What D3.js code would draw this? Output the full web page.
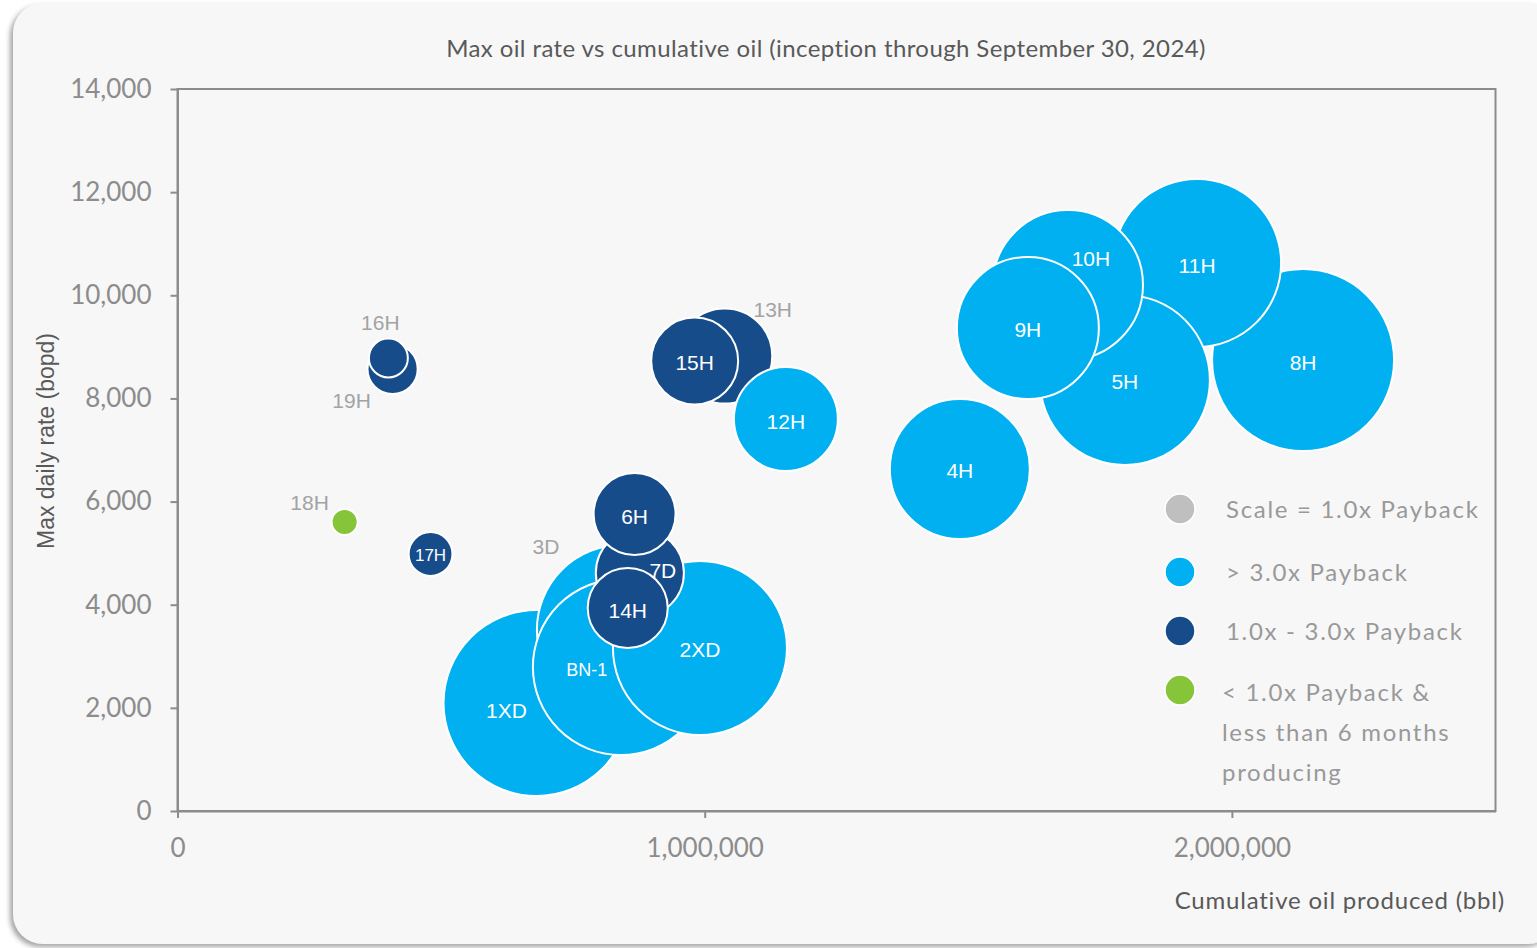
<!DOCTYPE html>
<html>
<head>
  <meta charset="utf-8">
  <style type="text/css">
    body { margin: 0; background: #ffffff; }
    svg { display: block; }
    .tick text { fill: #8c8c8c; font-family: Lato, sans-serif; font-size: 26px; }
    .well-label { font-family: "Liberation Sans", Arial, sans-serif; }
  </style>
  <script src="https://d3js.org/d3.v7.min.js"></script>
</head>
<body>
  <div id="chart"></div>
  <script type="text/javascript">
    // data, in drawing order (later wells sit on top)
    var wells    = ["8H", "11H", "5H", "10H", "9H", "4H", "1XD", "3D", "BN-1", "2XD",
                    "7D", "6H", "14H", "13H", "15H", "12H", "19H", "16H", "17H", "18H"];
    var cumOil   = [2135000, 1934000, 1797000, 1689000, 1613000, 1484000, 681000, 843000, 841000, 991000,
                    877000, 867000, 854000, 1038000, 981000, 1154000, 408000, 400000, 480000, 317000];
    var maxRate  = [8745, 10626, 8358, 10200, 9366, 6632, 2094, 3510, 2792, 3161,
                    4615, 5759, 3936, 8823, 8726, 7601, 8571, 8784, 4984, 5604];
    var bubbleSize = [82.8, 70.6, 72.3, 56.3, 50.4, 49.0, 86.5, 72.3, 77.4, 75.7,
                      19.4, 16.8, 16.0, 22.6, 18.9, 27.0, 6.3, 3.8, 4.8, 1.7];
    var payback  = ["high", "high", "high", "high", "high", "high", "high", "high", "high", "high",
                    "mid", "mid", "mid", "mid", "mid", "high", "mid", "mid", "mid", "low"];

    var xTicks = [0, 1000000, 2000000];
    var yTicks = [0, 2000, 4000, 6000, 8000, 10000, 12000, 14000];

    var legendKeys   = ["scale", "high", "mid", "low"];
    var legendLabels = [["Scale = 1.0x Payback"], ["> 3.0x Payback"], ["1.0x - 3.0x Payback"],
                        ["< 1.0x Payback &", "less than 6 months", "producing"]];

    var colors = { scale: "#bfbfbf", high: "#00b0f0", mid: "#164c8a", low: "#86c43a" };

    // labels that were nudged by hand in the original, and the ones set outside in grey
    var labelNudge = { "10H": [23, -28], "7D": [23, -4], "BN-1": [-34, 1], "1XD": [-30, 5],
                       "13H": [48, -48], "16H": [-8, -37], "19H": [-41, 30], "18H": [-35, -21],
                       "3D": [-76, -85] };
    var outsideLabels = ["13H", "16H", "19H", "18H", "3D"];
    var labelSize = { "BN-1": 18, "17H": 17 };

    var W = 1537, H = 948;
    var svg = d3.select("#chart").append("svg")
      .attr("width", W).attr("height", H);

    var defs = svg.append("defs");
    var f = defs.append("filter").attr("id", "shadow")
      .attr("x", "-5%").attr("y", "-5%").attr("width", "110%").attr("height", "110%");
    f.append("feDropShadow").attr("dx", -3).attr("dy", 3).attr("stdDeviation", 2.5)
      .attr("flood-color", "#7f7f7f").attr("flood-opacity", 0.7);

    // card
    svg.append("rect")
      .attr("x", 13).attr("y", 3).attr("width", 1545).attr("height", 941)
      .attr("rx", 30).attr("ry", 30)
      .attr("fill", "#f7f7f7")
      .attr("filter", "url(#shadow)");

    var x = d3.scaleLinear().domain([0, 2500000]).range([177.5, 1495.5]);
    var y = d3.scaleLinear().domain([0, 14000]).range([811, 89]);
    var r = d3.scaleSqrt().domain([0, d3.max(bubbleSize)]).range([0, 93]);

    // title
    svg.append("text")
      .attr("x", 826).attr("y", 57)
      .attr("text-anchor", "middle")
      .style("font-family", "Lato, sans-serif")
      .style("font-size", "24px")
      .style("letter-spacing", "0.4px")
      .style("fill", "#595959")
      .text("Max oil rate vs cumulative oil (inception through September 30, 2024)");

    // plot frame
    var axisColor = "#8c8c8c";
    svg.append("rect")
      .attr("x", x(0)).attr("y", y(14000))
      .attr("width", x(2500000) - x(0)).attr("height", y(0) - y(14000))
      .attr("fill", "none").attr("stroke", axisColor).attr("stroke-width", 2);

    var yAxis = svg.append("g")
      .attr("transform", "translate(" + x(0) + ",0)")
      .call(d3.axisLeft(y).tickValues(yTicks).tickFormat(d3.format(","))
        .tickSize(7).tickSizeOuter(0).tickPadding(19));
    var xAxis = svg.append("g")
      .attr("transform", "translate(0," + y(0) + ")")
      .call(d3.axisBottom(x).tickValues(xTicks).tickFormat(d3.format(","))
        .tickSize(7).tickSizeOuter(0).tickPadding(21));
    [xAxis, yAxis].forEach(function(a) {
      a.select(".domain").attr("stroke", axisColor).attr("stroke-width", 2);
      a.selectAll(".tick line").attr("stroke", axisColor).attr("stroke-width", 2);
    });

    // axis titles
    svg.append("text")
      .attr("transform", "translate(54,441) rotate(-90)")
      .attr("text-anchor", "middle")
      .style("font-family", "'Liberation Sans', Arial, sans-serif")
      .style("font-size", "23px")
      .style("fill", "#595959")
      .text("Max daily rate (bopd)");

    svg.append("text")
      .attr("x", 1505).attr("y", 909)
      .attr("text-anchor", "end")
      .style("font-family", "Lato, sans-serif")
      .style("font-size", "24px")
      .style("letter-spacing", "0.8px")
      .style("fill", "#595959")
      .text("Cumulative oil produced (bbl)");

    // bubbles
    var pts = wells.map(function(w, i) {
      return { name: w, cx: x(cumOil[i]), cy: y(maxRate[i]), rr: r(bubbleSize[i]), cat: payback[i] };
    });

    svg.append("g").selectAll("circle")
      .data(pts).enter().append("circle")
        .attr("cx", function(d) { return d.cx; })
        .attr("cy", function(d) { return d.cy; })
        .attr("r", function(d) { return d.rr; })
        .attr("fill", function(d) { return colors[d.cat]; })
        .attr("stroke", "#ffffff")
        .attr("stroke-width", 2);

    svg.append("g").selectAll("text")
      .data(pts).enter().append("text")
        .attr("class", "well-label")
        .attr("x", function(d) { return d.cx + (labelNudge[d.name] ? labelNudge[d.name][0] : 0); })
        .attr("y", function(d) { return d.cy + (labelNudge[d.name] ? labelNudge[d.name][1] : 0) + 2; })
        .attr("text-anchor", "middle")
        .attr("dominant-baseline", "central")
        .style("font-size", function(d) { return (labelSize[d.name] || 21) + "px"; })
        .style("fill", function(d) { return outsideLabels.indexOf(d.name) >= 0 ? "#a3a3a3" : "#ffffff"; })
        .text(function(d) { return d.name; });

    // legend
    var legendRows = [509, 572, 631, 690];
    var lg = svg.append("g");
    legendKeys.forEach(function(k, i) {
      lg.append("circle")
        .attr("cx", 1180).attr("cy", legendRows[i]).attr("r", 15)
        .attr("fill", colors[k]).attr("stroke", "#ffffff").attr("stroke-width", 1.5);
      var tx = i === 3 ? 1222 : 1226;
      var t = lg.append("text")
        .attr("x", tx).attr("y", legendRows[i] + (i === 3 ? 11 : 9))
        .style("font-family", "Lato, sans-serif")
        .style("font-size", "24px")
        .style("letter-spacing", "1.7px")
        .style("fill", "#999999");
      legendLabels[i].forEach(function(line, j) {
        t.append("tspan").attr("x", tx).attr("dy", j === 0 ? 0 : 40).text(line);
      });
    });
  </script>
</body>
</html>
